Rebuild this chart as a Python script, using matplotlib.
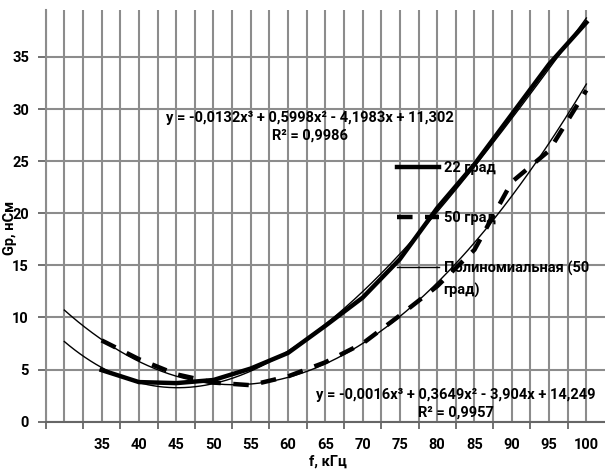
import matplotlib
matplotlib.use('Agg')
import matplotlib.pyplot as plt
import numpy as np

plt.rcParams['font.family'] = ['Roboto', 'DejaVu Sans']

# frequency categories, kHz (Excel line chart, x index 1..15)
freq = [30, 35, 40, 45, 50, 55, 60, 65, 70, 75, 80, 85, 90, 95, 100]
x_labels = ['', '35', '40', '45', '50', '55', '60', '65', '70', '75', '80', '85', '90', '95', '100']

# Gp, nS
g_22 = [np.nan, 4.95, 3.8, 3.7, 4.0, 5.1, 6.6, 9.2, 11.9, 15.6, 20.5, 24.7, 29.5, 34.3, 38.3]
g_50 = [np.nan, 7.8, 6.0, 4.55, 3.75, 3.5, 4.35, 5.7, 7.5, 10.2, 13.0, 16.5, 23.0, 26.0, 31.8]

# trendline coefficients as printed on the chart (x = category index)
coef_22 = [-0.0132, 0.5998, -4.1983, 11.302]
coef_50 = [-0.0016, 0.3649, -3.904, 14.249]
eq_22 = 'y = -0,0132x³ + 0,5998x² - 4,1983x + 11,302\nR² = 0,9986'
eq_50 = 'y = -0,0016x³ + 0,3649x² - 3,904x + 14,249\nR² = 0,9957'

y_ticks = [0, 5, 10, 15, 20, 25, 30, 35]

fig = plt.figure(figsize=(6.05, 4.72), dpi=100)
ax = fig.add_axes([0.0755, 0.1066, 0.9245, 0.8722])

grid_col = '#8c8c8c'
ax.set_xlim(27.5, 102.5)
ax.set_ylim(0, 39.5)

# gridlines every half category
ax.set_xticks(freq)
ax.set_xticklabels(x_labels)
ax.set_xticks(np.arange(27.5, 100, 5), minor=True)
ax.set_yticks(y_ticks)
ax.grid(True, which='major', color=grid_col, lw=1.5)
ax.grid(True, which='minor', axis='x', color=grid_col, lw=1.5)
ax.set_axisbelow(True)

ax.tick_params(axis='x', which='major', length=0, pad=12, labelsize=10.5)
ax.tick_params(axis='x', which='minor', length=5, width=1.3, color='#666666')
ax.tick_params(axis='y', length=6, width=1.3, color='#666666', pad=6, labelsize=10.5)
for lab in ax.get_xticklabels() + ax.get_yticklabels():
    lab.set_fontweight('bold')

for s in ['top', 'right']:
    ax.spines[s].set_visible(False)
ax.spines['left'].set_color(grid_col)
ax.spines['left'].set_linewidth(1.5)
ax.spines['bottom'].set_color('#666666')
ax.spines['bottom'].set_linewidth(1.5)

ax.plot(freq, g_22, color='black', lw=3.2, solid_joinstyle='round', label='22 град')
ax.plot(freq, g_50, color='black', lw=3.2, dashes=(3.5, 2.8), label='50 град')

idx = np.linspace(1, len(freq), 300)
f_dense = np.interp(idx, np.arange(1, len(freq) + 1), freq)
ax.plot(f_dense, np.polyval(coef_22, idx), color='black', lw=1.0, label='_nolegend_')
ax.plot(f_dense, np.polyval(coef_50, idx), color='black', lw=1.0,
        label='Полиномиальная (50')

ax.text(62.9, 28.3, eq_22, ha='center', va='center', fontsize=10.5, fontweight='bold',
        multialignment='center', linespacing=1.3)
ax.text(82.5, 1.75, eq_50, ha='center', va='center', fontsize=10.5, fontweight='bold',
        multialignment='center', linespacing=1.3)

leg = ax.legend(loc='upper left', bbox_to_anchor=(0.628, 0.633), frameon=False,
                borderpad=0, borderaxespad=0, handlelength=2.9, handletextpad=0.3,
                labelspacing=2.45, prop={'size': 10.5, 'weight': 'bold'})
# second line of the trendline label, kept under its first line
ax.annotate('град)', xy=(0, 0.5), xycoords=leg.get_texts()[2], xytext=(0, -16),
            textcoords='offset points', ha='left', va='center', fontsize=10.5,
            fontweight='bold', zorder=6)

fig.text(10 / 605, 1 - 228 / 472, 'Gp, нСм', rotation=90, ha='center', va='center',
         fontsize=10.5, fontweight='bold')
fig.text(328 / 605, 1 - 462 / 472, 'f, кГц', ha='center', va='center',
         fontsize=10.5, fontweight='bold')

fig.canvas.draw()
fig.savefig('out.png', dpi=100, facecolor='white')
